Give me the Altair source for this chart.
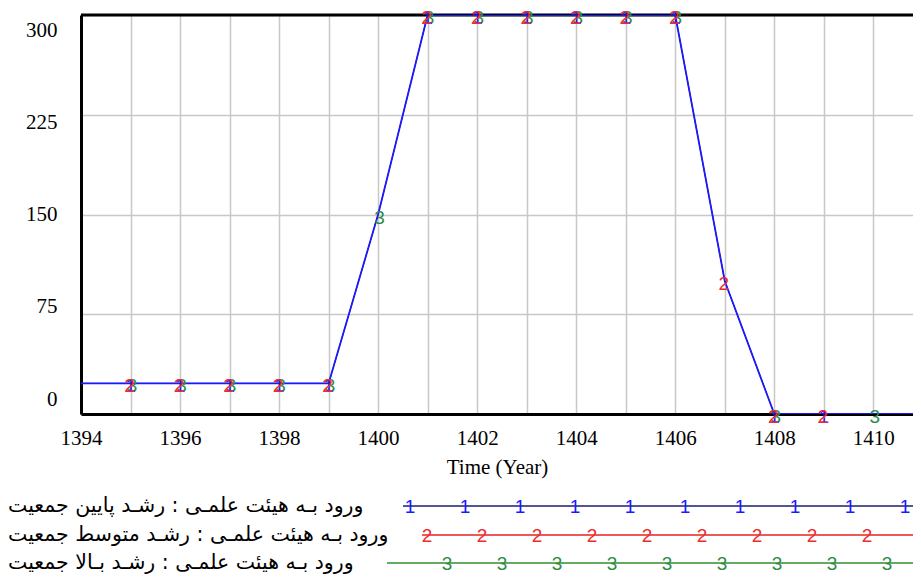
import altair as alt
import pandas as pd

# ---- data ----
years = [1394, 1395, 1396, 1397, 1398, 1399, 1400, 1401, 1402, 1403,
         1404, 1405, 1406, 1407, 1408, 1409, 1410, 1411]
low_growth = [23, 23, 23, 23, 23, 23, 150, 300, 300, 300, 300, 300, 300, 100, 0, 0, 0, 0]
mid_growth = [23, 23, 23, 23, 23, 23, 150, 300, 300, 300, 300, 300, 300, 100, 0, 0, 0, 0]
high_growth = [23, 23, 23, 23, 23, 23, 150, 300, 300, 300, 300, 300, 300, 100, 0, 0, 0, 0]

marker_years_1 = [1395, 1396, 1397, 1398, 1399, 1401, 1402, 1403, 1404, 1405, 1406, 1408, 1409]
marker_years_2 = [1395, 1396, 1397, 1398, 1399, 1401, 1402, 1403, 1404, 1405, 1406, 1407, 1408, 1409]
marker_years_3 = [1395, 1396, 1397, 1398, 1399, 1400, 1401, 1402, 1403, 1404, 1405, 1406, 1408, 1410]

series_labels = [
    "ورود بـه هیئت علمـی : رشـد پایین جمعیت",
    "ورود بـه هیئت علمـی : رشـد متوسط جمعیت",
    "ورود بـه هیئت علمـی : رشـد بـالا جمعیت",
]
series_digits = ["1", "2", "3"]
y_ticks = [0, 75, 150, 225, 300]
x_title = "Time (Year)"

# ---- styling / layout ----
W, H = 832, 399
X_MAX = 1394 + W / 49.52
BLUE, RED, GREEN = "#1a1aff", "#ee2b2b", "#2e8b45"
LEG_LINE = ["#1c1c70", "#e52222", "#2f8f2f"]
DIGIT_COL = [BLUE, RED, GREEN]
SERIF = "Liberation Serif"

series_values = [low_growth, mid_growth, high_growth]
marker_sets = [marker_years_1, marker_years_2, marker_years_3]

xs = alt.Scale(domain=[1394, X_MAX], nice=False, zero=False)
ys = alt.Scale(domain=[0, 300], nice=False, zero=True)

x_axis = alt.Axis(
    values=years, labelExpr="datum.value % 2 == 0 ? format(datum.value, 'd') : ''",
    grid=True, gridColor="#c8c8c8", gridWidth=1.5, ticks=False,
    domainColor="black", domainWidth=3, labelFlush=False, labelOverlap=False,
    labelFont=SERIF, labelFontSize=21, labelColor="black", labelPadding=13,
    title=x_title, titleFont=SERIF, titleFontSize=21, titleFontWeight="normal",
    titleColor="black", titlePadding=8,
)
y_axis = alt.Axis(
    values=y_ticks, grid=True, gridColor="#c8c8c8", gridWidth=1.5, ticks=False,
    domainColor="black", domainWidth=3, labelFont=SERIF, labelFontSize=21,
    labelColor="black", labelPadding=24, labelOffset={"expr": "(datum.value - 150) * 0.1"},
    title=None,
)

layers = []

# frame top line
layers.append(
    alt.Chart(pd.DataFrame({"v": [300]})).mark_rule(color="black", strokeWidth=3)
    .encode(y=alt.Y("v:Q", scale=ys, axis=y_axis))
)

# lines: green, red, blue (blue on top)
for idx, sw in [(2, 1.0), (1, 1.0), (0, 1.8)]:
    df = pd.DataFrame({"year": years, "value": series_values[idx]})
    col = [BLUE, RED, GREEN][idx]
    layers.append(
        alt.Chart(df).mark_line(color=col, strokeWidth=sw, clip=True)
        .encode(x=alt.X("year:Q", scale=xs, axis=x_axis),
                y=alt.Y("value:Q", scale=ys, axis=y_axis))
    )

# digit markers
offsets = {2: 1.5, 0: 0, 1: -1}
for idx in [2, 0, 1]:
    vals = dict(zip(years, series_values[idx]))
    df = pd.DataFrame({"year": marker_sets[idx],
                       "value": [vals[y] for y in marker_sets[idx]],
                       "d": series_digits[idx]})
    layers.append(
        alt.Chart(df).mark_text(font="Liberation Sans", fontSize=19, color=DIGIT_COL[idx],
                                dx=offsets[idx], dy=3)
        .encode(x=alt.X("year:Q", scale=xs, axis=x_axis),
                y=alt.Y("value:Q", scale=ys, axis=y_axis), text="d:N")
    )

# ---- custom legend (pixel layout below the plot) ----
row_y = [491, 520, 548]
line_start = [322, 341, 306]
first_marker = [329, 346, 366]
marker_count = [10, 9, 9]
step = 55.0
for i in range(3):
    layers.append(
        alt.Chart(pd.DataFrame({"a": [0]})).mark_rule(color=LEG_LINE[i], strokeWidth=1.6)
        .encode(x=alt.value(line_start[i]), x2=alt.value(W), y=alt.value(row_y[i]))
    )
    for k in range(marker_count[i]):
        layers.append(
            alt.Chart(pd.DataFrame({"a": [0]})).mark_text(
                font="Liberation Sans", fontSize=19, color=DIGIT_COL[i], baseline="middle")
            .encode(x=alt.value(first_marker[i] + step * k), y=alt.value(row_y[i] + 1),
                    text=alt.value(series_digits[i]))
        )
    layers.append(
        alt.Chart(pd.DataFrame({"a": [0]})).mark_text(
            font="DejaVu Sans", fontSize=20.5, color="black", align="left", baseline="middle")
        .encode(x=alt.value(-73), y=alt.value(row_y[i]), text=alt.value(series_labels[i]))
    )

chart = alt.layer(*layers).properties(
    width=W, height=H,
    padding={"left": 73, "top": 7, "right": 0, "bottom": 162},
    autosize=alt.AutoSizeParams(type="none"),
).configure_view(stroke=None).configure(background="white")

chart.save("out.html", embed_options={"renderer": "svg", "actions": False})
